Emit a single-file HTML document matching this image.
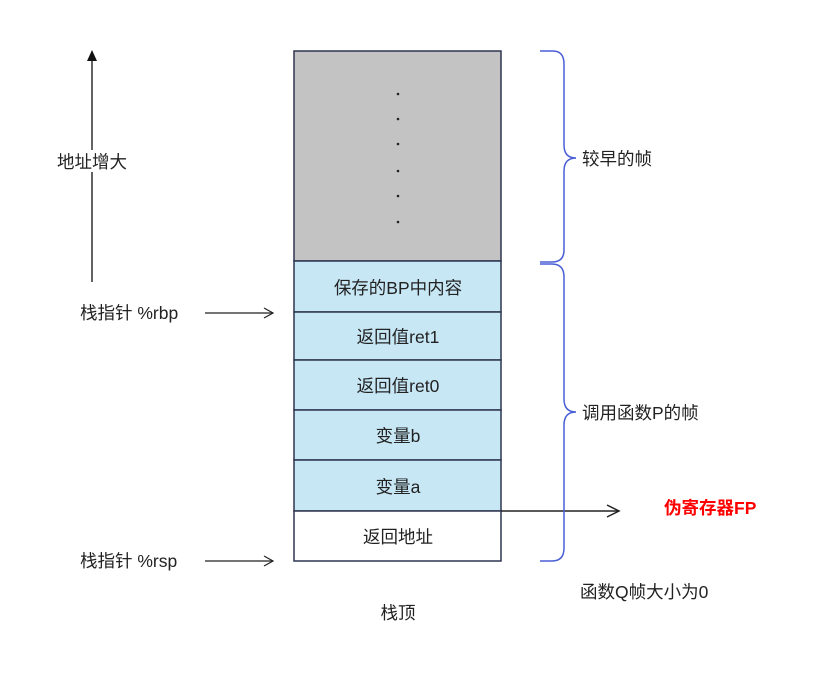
<!DOCTYPE html>
<html><head><meta charset="utf-8"><style>
html,body{margin:0;padding:0;background:#fff;}
svg{display:block;}
text{font-family:"Liberation Sans","Noto Sans CJK SC",sans-serif;font-size:17.5px;fill:#222;}
</style></head><body>
<svg width="840" height="695" viewBox="0 0 840 695" xmlns="http://www.w3.org/2000/svg">
<rect x="0" y="0" width="840" height="695" fill="#fff"/>
<rect x="294" y="51" width="207" height="210" fill="#c3c3c3" stroke="#2e3550" stroke-width="1.5"/>
<g fill="#222">
<circle cx="398" cy="94" r="1.3"/><circle cx="398" cy="119" r="1.3"/><circle cx="398" cy="144" r="1.3"/>
<circle cx="398" cy="171" r="1.3"/><circle cx="398" cy="196" r="1.3"/><circle cx="398" cy="222" r="1.3"/>
</g>
<g stroke="#2e3550" stroke-width="1.5" fill="#c7e7f5">
<rect x="294" y="261" width="207" height="51"/>
<rect x="294" y="312" width="207" height="48"/>
<rect x="294" y="360" width="207" height="50"/>
<rect x="294" y="410" width="207" height="50"/>
<rect x="294" y="460" width="207" height="51"/>
<rect x="294" y="511" width="207" height="50" fill="#fff"/>
</g>
<g text-anchor="middle">
<text x="398" y="294">保存的BP中内容</text>
<text x="398" y="343">返回值ret1</text>
<text x="398" y="392">返回值ret0</text>
<text x="398" y="442">变量b</text>
<text x="398" y="493">变量a</text>
<text x="398" y="543">返回地址</text>
<text x="398" y="619">栈顶</text>
</g>
<line x1="92" y1="282" x2="92" y2="60" stroke="#111" stroke-width="1.3"/>
<polygon points="92,50 87,61 97,61" fill="#111"/>
<rect x="55" y="150" width="75" height="22" fill="#fff"/>
<text x="57" y="168">地址增大</text>
<text x="80" y="319">栈指针 %rbp</text>
<text x="80" y="567">栈指针 %rsp</text>
<g stroke="#222" stroke-width="1.2" fill="none">
<line x1="205" y1="313" x2="273" y2="313"/><polyline points="264,308 273,313 264,318"/>
<line x1="205" y1="561" x2="273" y2="561"/><polyline points="264,556 273,561 264,566"/>
<line x1="501" y1="511" x2="619" y2="511" stroke-width="1.5"/><polyline points="607,505 619,511 607,517" stroke-width="1.5"/>
</g>
<g stroke="#4a5fd6" stroke-width="1.5" fill="none">
<path d="M540,51 H553 Q564,51 564,64 V145 Q564,158 576,158 Q564,158 564,171 V250 Q564,262 552,262 H540"/>
<path d="M540,264 H552 Q564,264 564,277 V399 Q564,412 576,412 Q564,412 564,425 V548 Q564,561 552,561 H540"/>
</g>
<text x="582" y="165">较早的帧</text>
<text x="582" y="419">调用函数P的帧</text>
<text x="664" y="514" style="fill:#f00;font-weight:bold;">伪寄存器FP</text>
<text x="580" y="598">函数Q帧大小为0</text>
</svg>
</body></html>
